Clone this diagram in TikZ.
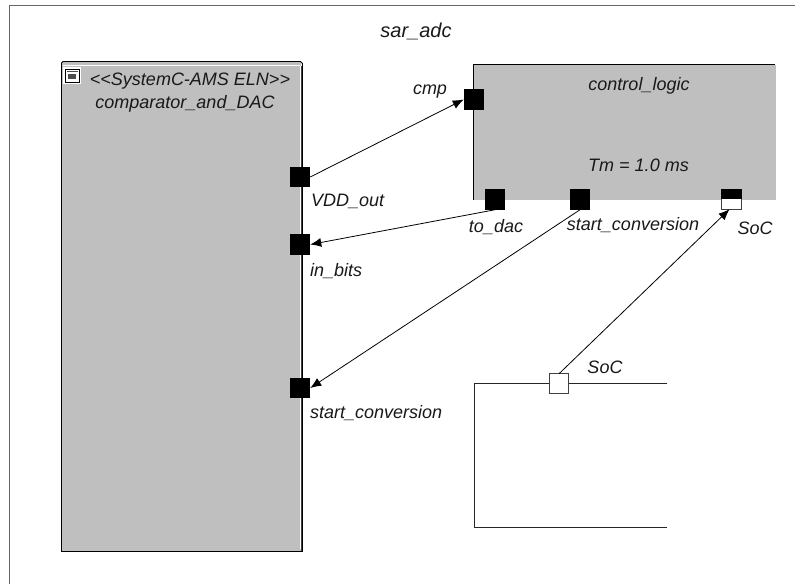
\documentclass[tikz,border=0pt]{standalone}
\usepackage{fontspec}
\setmainfont{Liberation Sans}
\usetikzlibrary{arrows.meta}
\tikzset{
  lbl/.style={inner sep=0pt,font=\fontsize{18}{21}\selectfont\itshape,text=black!90},
  port/.style={draw=none,fill=black,minimum size=20.5pt,inner sep=0pt,outer sep=0pt},
  wport/.style={draw=black!75,line width=0.9pt,fill=white,minimum size=19.5pt,inner sep=0pt,outer sep=0pt},
  conn/.style={line width=0.8pt,black,-{Latex[length=11pt,width=9pt]}},
  edge1/.style={line width=0.9pt,black}
}
\begin{document}
\begin{tikzpicture}[x=1pt,y=-1pt]
\useasboundingbox (0,0) rectangle (795,584);
\fill[white] (0,0) rectangle (795,584);
% outer frame
\draw[line width=1pt,black!60] (9.5,584) -- (9.5,5.5) -- (795,5.5);
\node[lbl,font=\fontsize{20}{24}\selectfont\itshape] (title) at (416,31) {sar\_adc};
% comparator box
\fill[black!25] (62,62) rectangle (300.5,551);
\draw[edge1] (61.5,551.5) -- (61.5,63) -- (63,61.5) -- (300.5,61.5) -- (302.5,63.5) -- (302.5,551.5) -- cycle;
\draw[line width=0.5pt,white] (63,65.5) -- (300,65.5);
\draw[line width=0.9pt,white] (300.3,66) -- (300.3,549);
\draw[line width=1pt,black!75] (301.2,66) -- (301.2,551);
\draw[edge1] (302.5,63) -- (302.5,551);
% icon
\fill[white] (63,67) rectangle (81,84);
\draw[line width=0.9pt,black] (65,69) rectangle (79,82);
\draw[line width=0.5pt,black!70] (66.5,71) -- (77.5,71);
\fill[black!70] (67.8,73.5) rectangle (76.2,79);
\node[lbl] (cmpstereo) at (190,81) {<{}<SystemC-AMS ELN>{}>};
\node[lbl] (cmpname) at (185,104) {comparator\_and\_DAC};
% control logic
\fill[black!25] (473.5,65) rectangle (775.5,200);
\draw[line width=0.9pt,black] (473.5,199.5) -- (473.5,64.5) -- (775,64.5);
\node[lbl] (ctlname) at (639,86) {control\_logic};
\node[lbl] (tm) at (638.5,165.5) {Tm = 1.0 ms};
% lower rectangle
\draw[line width=0.9pt,black!85] (667,383.5) -- (474.5,383.5) -- (474.5,527) -- (667,527);
% ports
\node[port] (vdd) at (300,177) {};
\node[port] (inbits) at (300,244.5) {};
\node[port] (startin) at (300,388) {};
\node[port] (cmpp) at (474,99.5) {};
\node[port] (todac) at (495,199.5) {};
\node[port] (startout) at (580,199.5) {};
\node[wport] (socout) at (731.5,199.5) {};
\fill[black] (721.3,189.3) rectangle (741.7,198.5);
\node[wport] (socin) at (559,383.5) {};
% connectors
\draw[conn] (vdd.east) -- (cmpp.west);
\draw[conn] (todac.south) -- (inbits.east);
\draw[conn] (startout.south) -- (startin.east);
\draw[conn] (socin.north) -- ([xshift=-2pt]socout.south);
% labels
\node[lbl,anchor=west] (lvdd) at (311,201.5) {VDD\_out};
\node[lbl,anchor=west] (lin) at (310,271) {in\_bits};
\node[lbl,anchor=west] (lstart) at (310,413) {start\_conversion};
\node[lbl] (lcmp) at (430,92) {cmp};
\node[lbl] (ldac) at (496,227) {to\_dac};
\node[lbl] (lso) at (633,225.5) {start\_conversion};
\node[lbl] (lsoc) at (755,228) {SoC};
\node[lbl] (lsoc2) at (605,367) {SoC};
\end{tikzpicture}
\end{document}
